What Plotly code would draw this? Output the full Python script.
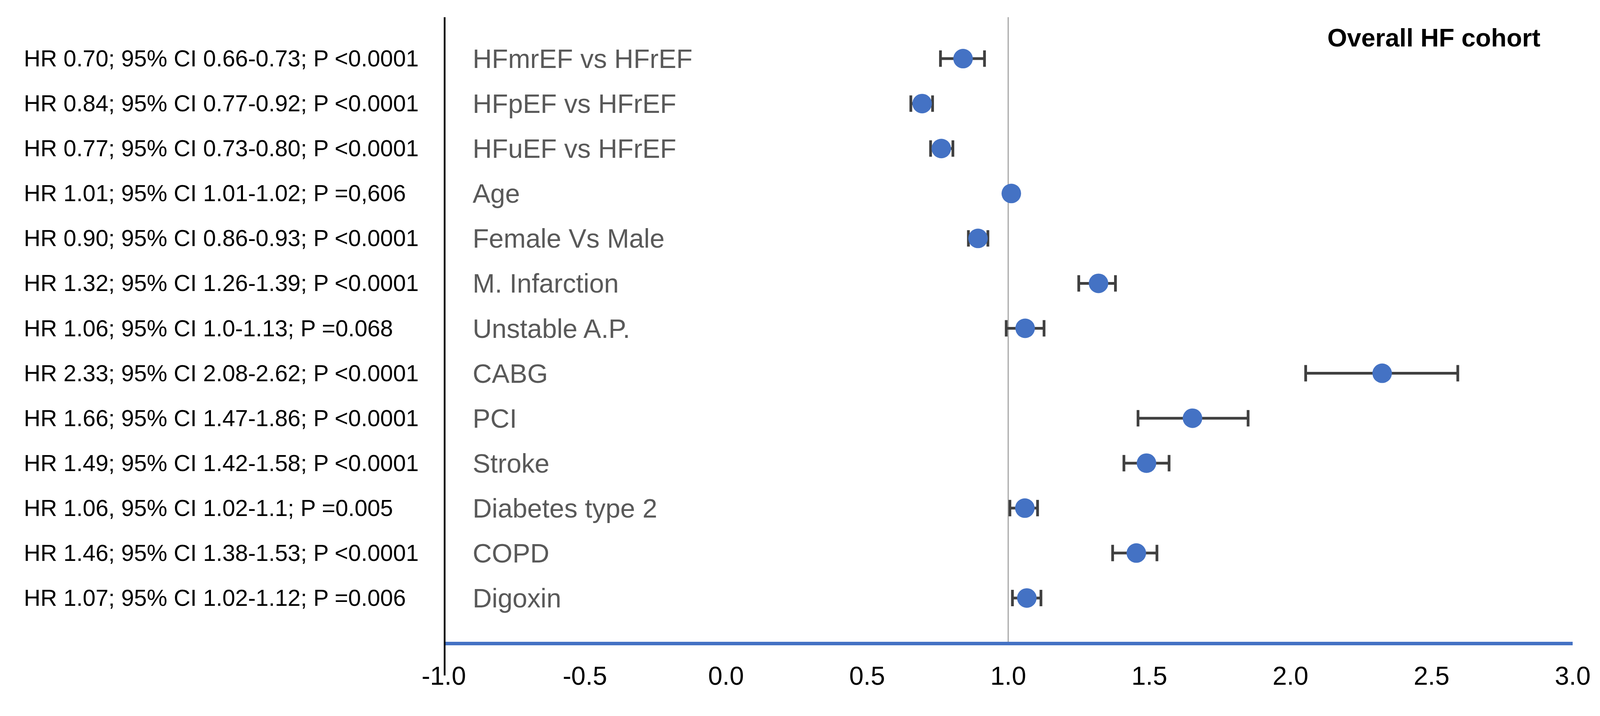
import plotly.graph_objects as go

# ---- data ----
labels = ["HFmrEF vs HFrEF", "HFpEF vs HFrEF", "HFuEF vs HFrEF", "Age", "Female Vs Male",
          "M. Infarction", "Unstable A.P.", "CABG", "PCI", "Stroke", "Diabetes type 2",
          "COPD", "Digoxin"]
hr_text = ["HR 0.70; 95% CI 0.66-0.73; P <0.0001",
           "HR 0.84; 95% CI 0.77-0.92; P <0.0001",
           "HR 0.77; 95% CI 0.73-0.80; P <0.0001",
           "HR 1.01; 95% CI 1.01-1.02; P =0,606",
           "HR 0.90; 95% CI 0.86-0.93; P <0.0001",
           "HR 1.32; 95% CI 1.26-1.39; P <0.0001",
           "HR 1.06; 95% CI 1.0-1.13; P =0.068",
           "HR 2.33; 95% CI 2.08-2.62; P <0.0001",
           "HR 1.66; 95% CI 1.47-1.86; P <0.0001",
           "HR 1.49; 95% CI 1.42-1.58; P <0.0001",
           "HR 1.06, 95% CI 1.02-1.1; P =0.005",
           "HR 1.46; 95% CI 1.38-1.53; P <0.0001",
           "HR 1.07; 95% CI 1.02-1.12; P =0.006"]
est = [0.84, 0.695, 0.763, 1.011, 0.893, 1.32, 1.06, 2.325, 1.653, 1.49, 1.059, 1.454, 1.066]
lo = [0.76, 0.655, 0.725, 1.005, 0.859, 1.25, 0.993, 2.054, 1.46, 1.41, 1.006, 1.37, 1.015]
hi = [0.916, 0.732, 0.804, 1.02, 0.928, 1.38, 1.127, 2.593, 1.85, 1.57, 1.104, 1.527, 1.116]
x_ticks = [-1.0, -0.5, 0.0, 0.5, 1.0, 1.5, 2.0, 2.5, 3.0]
title = "Overall HF cohort"

rows = list(range(len(labels)))
err_plus = [h - e for h, e in zip(hi, est)]
err_minus = [e - l for e, l in zip(est, lo)]

W, H = 4106, 1833
L, R, T, B = 1128, 88, 36, 198

fig = go.Figure()
fig.add_trace(go.Scatter(
    x=est, y=rows, mode="markers",
    marker=dict(color="#4472C4", size=50, line=dict(width=0)),
    error_x=dict(type="data", symmetric=False, array=err_plus, arrayminus=err_minus,
                 color="#404040", thickness=7, width=21),
    showlegend=False, hoverinfo="skip",
))

FONT = "Liberation Sans, Arial, sans-serif"
ann = []
for i in rows:
    ann.append(dict(x=-0.3728, y=i, xref="paper", yref="y", text=hr_text[i],
                    showarrow=False, xanchor="left", yanchor="middle",
                    font=dict(family=FONT, size=59, color="#000000")))
    ann.append(dict(x=0.025, y=i, xref="paper", yref="y", text=labels[i],
                    showarrow=False, xanchor="left", yanchor="middle",
                    font=dict(family=FONT, size=68, color="#595959")))
ann.append(dict(x=0.972, y=0.967, xref="paper", yref="paper", text="<b>" + title + "</b>",
                showarrow=False, xanchor="right", yanchor="middle",
                font=dict(family=FONT, size=65, color="#000000")))

shapes = [
    dict(type="line", xref="x", yref="paper", x0=1, x1=1, y0=0, y1=1,
         line=dict(color="#A6A6A6", width=3), layer="below"),
    dict(type="line", xref="x", yref="paper", x0=-1, x1=-1, y0=-0.054, y1=1,
         line=dict(color="#000000", width=9), layer="above"),
]

fig.update_layout(
    width=W, height=H,
    margin=dict(l=L, r=R, t=T, b=B, pad=0),
    paper_bgcolor="white", plot_bgcolor="white",
    annotations=ann, shapes=shapes,
    xaxis=dict(range=[-1, 3], tickvals=x_ticks, ticktext=[f"{v:.1f}" for v in x_ticks],
               showgrid=False, zeroline=False, showline=True, linecolor="#4472C4",
               linewidth=9, ticks="", ticklabelstandoff=22,
               tickfont=dict(family=FONT, size=66, color="#000000")),
    yaxis=dict(range=[12.974, -0.922], showgrid=False, zeroline=False, showline=False,
               showticklabels=False, ticks=""),
)

fig.write_html("out.html")
